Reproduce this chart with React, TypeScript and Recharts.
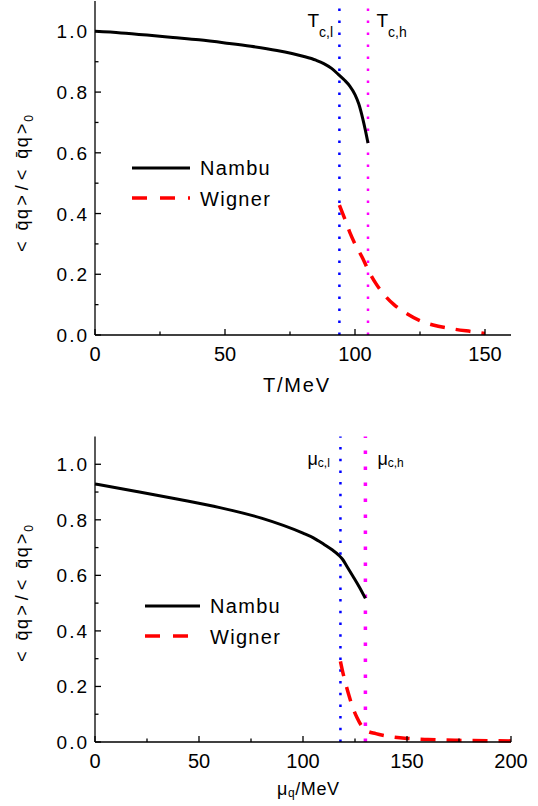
import React from "react";
import { Legend, Line, LineChart, ReferenceLine, XAxis, YAxis } from "recharts";

const FONT = '"Liberation Sans", Arial, Helvetica, sans-serif';

// upper panel: condensate ratio vs temperature
const tempMajor = [0, 50, 100, 150];
const tempMinor = [25, 75, 125];
const nambuT = [0, 10, 20, 30, 40, 50, 60, 70, 80, 85, 88, 91, 94, 96, 98, 100, 101.5, 103, 104, 105];
const nambuTVal = [1.0, 0.995, 0.988, 0.98, 0.972, 0.962, 0.951, 0.937, 0.918, 0.905, 0.894, 0.878, 0.855, 0.839, 0.82, 0.792, 0.76, 0.712, 0.674, 0.632];
const wignerT = [94, 96, 98, 100, 103, 105, 108, 111, 115, 120, 125, 130, 137, 145, 150];
const wignerTVal = [0.428, 0.384, 0.338, 0.3, 0.252, 0.215, 0.17, 0.135, 0.1, 0.07, 0.047, 0.033, 0.021, 0.011, 0.005];
const tcLow = 94;
const tcHigh = 105;

// lower panel: condensate ratio vs quark chemical potential
const muMajor = [0, 50, 100, 150, 200];
const muMinor = [25, 75, 125, 175];
const nambuMu = [0, 20, 40, 60, 80, 100, 105, 110, 114, 117, 119, 121, 124, 127, 130];
const nambuMuVal = [0.929, 0.902, 0.874, 0.844, 0.806, 0.752, 0.735, 0.712, 0.692, 0.674, 0.658, 0.634, 0.597, 0.559, 0.517];
const wignerMu = [118, 119, 120, 122, 124, 126, 128, 130, 135, 140, 150, 160, 175, 200];
const wignerMuVal = [0.29, 0.255, 0.225, 0.17, 0.123, 0.087, 0.06, 0.043, 0.03, 0.022, 0.013, 0.009, 0.006, 0.004];
const muLow = 118;
const muHigh = 130;

const ratioMajor = [0, 0.2, 0.4, 0.6, 0.8, 1.0];
const ratioMinor = [0.1, 0.3, 0.5, 0.7, 0.9];

const toPoints = (xs: number[], ys: number[]) => xs.map((x, i) => ({ x, y: ys[i] }));

const isMajor = (v: number, majors: number[]) => majors.some((m) => Math.abs(m - v) < 1e-6);

const AX = { stroke: "#000", strokeWidth: 1.3 };

function xTick(majors: number[], side: "bottom" | "top") {
  return (p: any) => {
    const { x, y, payload } = p;
    const major = isMajor(payload.value, majors);
    const len = major ? 6 : 3.5;
    const dir = side === "bottom" ? -1 : 1;
    return (
      <g>
        <line x1={x} x2={x} y1={y} y2={y + dir * len} {...AX} />
        {side === "bottom" && major && (
          <text x={x} y={y + 26} textAnchor="middle" fontSize={20} fontFamily={FONT} fill="#000">
            {payload.value}
          </text>
        )}
      </g>
    );
  };
}

function yTick(side: "left" | "right") {
  return (p: any) => {
    const { x, y, payload } = p;
    const major = isMajor(payload.value, ratioMajor);
    const len = major ? 6 : 3.5;
    const dir = side === "left" ? 1 : -1;
    return (
      <g>
        <line x1={x} x2={x + dir * len} y1={y} y2={y} {...AX} />
        {side === "left" && major && (
          <text x={x - 6} y={y + 7} textAnchor="end" fontSize={19} letterSpacing={2} fontFamily={FONT} fill="#000">
            {payload.value.toFixed(1)}
          </text>
        )}
      </g>
    );
  };
}

// "< q̄q>/< q̄q>0" drawn piece by piece so the bar sits over the first q
const yTitle = (cy: number) => () => (
  <text
    transform={`translate(28, ${cy}) rotate(-90)`}
    textAnchor="middle"
    fontSize={18}
    letterSpacing={1}
    fontFamily={FONT}
    fill="#000"
  >
    <tspan>{"<"}</tspan>
    <tspan dx={10}>{"q\u0304"}</tspan>
    <tspan dx={0.5}>q</tspan>
    <tspan dx={2}>{">"}</tspan>
    <tspan dx={4}>/</tspan>
    <tspan dx={4}>{"<"}</tspan>
    <tspan dx={10}>{"q\u0304"}</tspan>
    <tspan dx={0.5}>q</tspan>
    <tspan dx={2}>{">"}</tspan>
    <tspan fontSize={12} dx={1} dy={5}>0</tspan>
  </text>
);

function legendBox(lineLen: number, textX: number) {
  return () => (
    <svg width={160} height={64} style={{ display: "block", overflow: "visible" }}>
      <line x1={0} x2={lineLen} y1={13} y2={13} stroke="#000" strokeWidth={3} />
      <text x={textX} y={20} fontSize={20} letterSpacing={1.3} fontFamily={FONT} fill="#000">
        Nambu
      </text>
      <line x1={0} x2={lineLen} y1={43} y2={43} stroke="#ff0000" strokeWidth={3.5} strokeDasharray="15 13" />
      <text x={textX} y={51} fontSize={20} letterSpacing={1.3} fontFamily={FONT} fill="#000">
        Wigner
      </text>
    </svg>
  );
}

// critical-line annotations: main letter plus "c,l"/"c,h" subscript
function critLabel(main: string, sub: string, dx: number, y: number, size: number, subSize: number, subDy: number) {
  return (p: any) => {
    const x = (p.viewBox?.x ?? 0) + dx;
    return (
      <text x={x} y={y} fontSize={size} fontFamily={FONT} fill="#000">
        {main}
        <tspan fontSize={subSize} dy={subDy}>{sub}</tspan>
      </text>
    );
  };
}

function TemperaturePanel() {
  return (
    <LineChart width={538} height={400} margin={{ top: 1, right: 27, bottom: 0, left: 0 }}>
      <XAxis
        dataKey="x"
        type="number"
        domain={[0, 160]}
        ticks={[...tempMajor, ...tempMinor]}
        interval={0}
        height={65}
        tickSize={0}
        tickMargin={0}
        tickLine={false}
        axisLine={AX}
        tick={xTick(tempMajor, "bottom")}
        label={() => (
          <text x={263} y={391.5} fontSize={20} letterSpacing={1.8} fontFamily={FONT} fill="#000">
            T/MeV
          </text>
        )}
      />
      <XAxis
        xAxisId="top"
        orientation="top"
        dataKey="x"
        type="number"
        domain={[0, 160]}
        ticks={[...tempMajor, ...tempMinor]}
        interval={0}
        height={0}
        tickSize={0}
        tickMargin={0}
        tickLine={false}
        axisLine={AX}
        tick={xTick(tempMajor, "top")}
      />
      <YAxis
        type="number"
        domain={[0, 1.1]}
        ticks={[...ratioMajor, ...ratioMinor]}
        interval={0}
        width={95}
        tickSize={0}
        tickMargin={0}
        tickLine={false}
        axisLine={AX}
        tick={yTick("left")}
        label={yTitle(183)}
      />
      <YAxis
        yAxisId="right"
        orientation="right"
        type="number"
        domain={[0, 1.1]}
        ticks={[...ratioMajor, ...ratioMinor]}
        interval={0}
        width={0}
        tickSize={0}
        tickMargin={0}
        tickLine={false}
        axisLine={AX}
        tick={yTick("right")}
      />
      <ReferenceLine
        x={tcLow}
        stroke="#0000ff"
        strokeWidth={2.5}
        strokeDasharray="2.5 9.5"
        label={critLabel("T", "c,l", -32, 27, 19, 14, 9.5)}
      />
      <ReferenceLine
        x={tcHigh}
        stroke="#ff00ff"
        strokeWidth={2.5}
        strokeDasharray="2.5 9.5"
        label={critLabel("T", "c,h", 8.5, 27, 19, 14, 9.5)}
      />
      <Line
        data={toPoints(nambuT, nambuTVal)}
        dataKey="y"
        type="monotone"
        stroke="#000"
        strokeWidth={3}
        dot={false}
        isAnimationActive={false}
      />
      <Line
        data={toPoints(wignerT, wignerTVal)}
        dataKey="y"
        type="monotone"
        stroke="#ff0000"
        strokeWidth={3.5}
        strokeDasharray="15 11"
        dot={false}
        isAnimationActive={false}
      />
      <Legend
        layout="vertical"
        align="center"
        verticalAlign="middle"
        content={legendBox(58, 68)}
        wrapperStyle={{ left: 131.7, top: 154.7, width: 160, height: 64 }}
      />
    </LineChart>
  );
}

function ChemicalPotentialPanel() {
  return (
    <LineChart width={538} height={386} margin={{ top: 16.5, right: 27, bottom: 0, left: 0 }}>
      <XAxis
        dataKey="x"
        type="number"
        domain={[0, 200]}
        ticks={[...muMajor, ...muMinor]}
        interval={0}
        height={64}
        tickSize={0}
        tickMargin={0}
        tickLine={false}
        axisLine={AX}
        tick={xTick(muMajor, "bottom")}
        label={() => (
          <text x={277} y={375} fontSize={18} letterSpacing={0.6} fontFamily={FONT} fill="#000">
            μ
            <tspan fontSize={12} dy={2}>q</tspan>
            <tspan fontSize={18} dy={-2}>/MeV</tspan>
          </text>
        )}
      />
      <XAxis
        xAxisId="top"
        orientation="top"
        dataKey="x"
        type="number"
        domain={[0, 200]}
        ticks={[...muMajor, ...muMinor]}
        interval={0}
        height={0}
        tickSize={0}
        tickMargin={0}
        tickLine={false}
        axisLine={AX}
        tick={xTick(muMajor, "top")}
      />
      <YAxis
        type="number"
        domain={[0, 1.1]}
        ticks={[...ratioMajor, ...ratioMinor]}
        interval={0}
        width={95}
        tickSize={0}
        tickMargin={0}
        tickLine={false}
        axisLine={AX}
        tick={yTick("left")}
        label={yTitle(173)}
      />
      <YAxis
        yAxisId="right"
        orientation="right"
        type="number"
        domain={[0, 1.1]}
        ticks={[...ratioMajor, ...ratioMinor]}
        interval={0}
        width={0}
        tickSize={0}
        tickMargin={0}
        tickLine={false}
        axisLine={AX}
        tick={yTick("right")}
      />
      <ReferenceLine
        x={muLow}
        stroke="#0000ff"
        strokeWidth={2.5}
        strokeDasharray="2.5 9.2"
        label={critLabel("μ", "c,l", -33, 45, 18, 12, 2)}
      />
      <ReferenceLine
        x={muHigh}
        stroke="#ff00ff"
        strokeWidth={3.5}
        strokeDasharray="3.5 12.5"
        label={critLabel("μ", "c,h", 12, 45, 18, 12, 2)}
      />
      <Line
        data={toPoints(nambuMu, nambuMuVal)}
        dataKey="y"
        type="monotone"
        stroke="#000"
        strokeWidth={3}
        dot={false}
        isAnimationActive={false}
      />
      <Line
        data={toPoints(wignerMu, wignerMuVal)}
        dataKey="y"
        type="monotone"
        stroke="#ff0000"
        strokeWidth={3.5}
        strokeDasharray="15 11"
        dot={false}
        isAnimationActive={false}
      />
      <Legend
        layout="vertical"
        align="center"
        verticalAlign="middle"
        content={legendBox(55, 65)}
        wrapperStyle={{ left: 145, top: 172.7, width: 160, height: 64 }}
      />
    </LineChart>
  );
}

export default function App() {
  return (
    <div
      style={{
        position: "absolute",
        left: 0,
        top: 0,
        width: 538,
        height: 806,
        background: "#fff",
        fontFamily: FONT,
      }}
    >
      <div style={{ position: "absolute", left: 0, top: 0 }}>
        <TemperaturePanel />
      </div>
      <div style={{ position: "absolute", left: 0, top: 420 }}>
        <ChemicalPotentialPanel />
      </div>
    </div>
  );
}
